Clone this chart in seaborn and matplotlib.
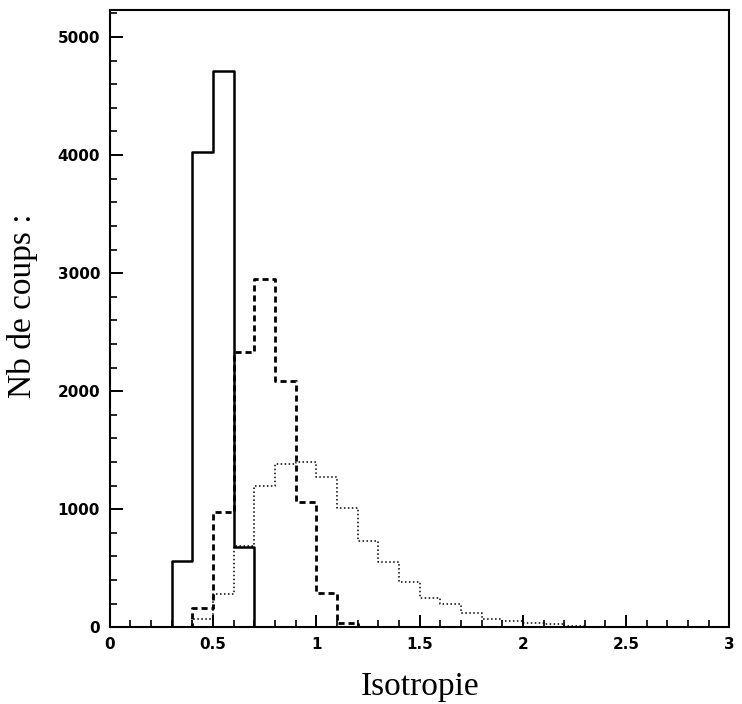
import numpy as np
import matplotlib.pyplot as plt
import seaborn as sns
from matplotlib.ticker import MultipleLocator

# bins de largeur 0.1 entre 0 et 3
edges = [round(0.1 * i, 2) for i in range(31)]

# trait plein
plein_debut = 0.3
plein = [560, 4030, 4710, 680]

# tirets
tirets_debut = 0.4
tirets = [160, 980, 2330, 2950, 2090, 1060, 290, 40]

# pointillés
points_debut = 0.4
points = [70, 280, 690, 1200, 1380, 1400, 1270, 1010, 730, 550,
          380, 245, 195, 120, 70, 50, 35, 25, 10]


def centres(debut, valeurs):
    return [round(debut + 0.1 * i + 0.05, 3) for i in range(len(valeurs))]


sns.set_theme(style="white")
plt.rcParams["font.family"] = ["DejaVu Sans"]

fig = plt.figure(figsize=(7.42, 7.04), dpi=100)
ax = fig.add_axes([0.148, 0.109, 0.835, 0.877])

sns.histplot(x=centres(plein_debut, plein), weights=plein, bins=edges,
             element="step", fill=False, color="black", linewidth=1.8, ax=ax)
sns.histplot(x=centres(tirets_debut, tirets), weights=tirets, bins=edges,
             element="step", fill=False, color="black", linewidth=2.0,
             linestyle=(0, (2.2, 1.4)), ax=ax)
sns.histplot(x=centres(points_debut, points), weights=points, bins=edges,
             element="step", fill=False, color="black", linewidth=1.1,
             linestyle=(0, (1, 1.6)), ax=ax)

ax.set_xlim(0, 3)
ax.set_ylim(0, 5230)
ax.xaxis.set_major_locator(MultipleLocator(0.5))
ax.xaxis.set_minor_locator(MultipleLocator(0.1))
ax.yaxis.set_major_locator(MultipleLocator(1000))
ax.yaxis.set_minor_locator(MultipleLocator(200))
ax.set_xticks([0, 0.5, 1, 1.5, 2, 2.5, 3])
ax.set_xticklabels(["0", "0.5", "1", "1.5", "2", "2.5", "3"])

ax.tick_params(which="both", bottom=True, left=True, top=False, right=False)
ax.tick_params(which="major", direction="in", length=9, width=1.4,
               labelsize=11, colors="black", pad=7)
ax.tick_params(which="minor", direction="in", length=5, width=1.2,
               colors="black")
for lab in ax.get_xticklabels() + ax.get_yticklabels():
    lab.set_fontweight("bold")

for s in ax.spines.values():
    s.set_color("black")
    s.set_linewidth(1.5)

ax.set_xlabel("Isotropie", family=["Liberation Serif"], fontsize=24,
              labelpad=14, color="black")
ax.set_ylabel("Nb de coups :", family=["Liberation Serif"], fontsize=24,
              color="black")
ax.yaxis.set_label_coords(-0.116, 0.52)

fig.savefig("out.png", dpi=100)
